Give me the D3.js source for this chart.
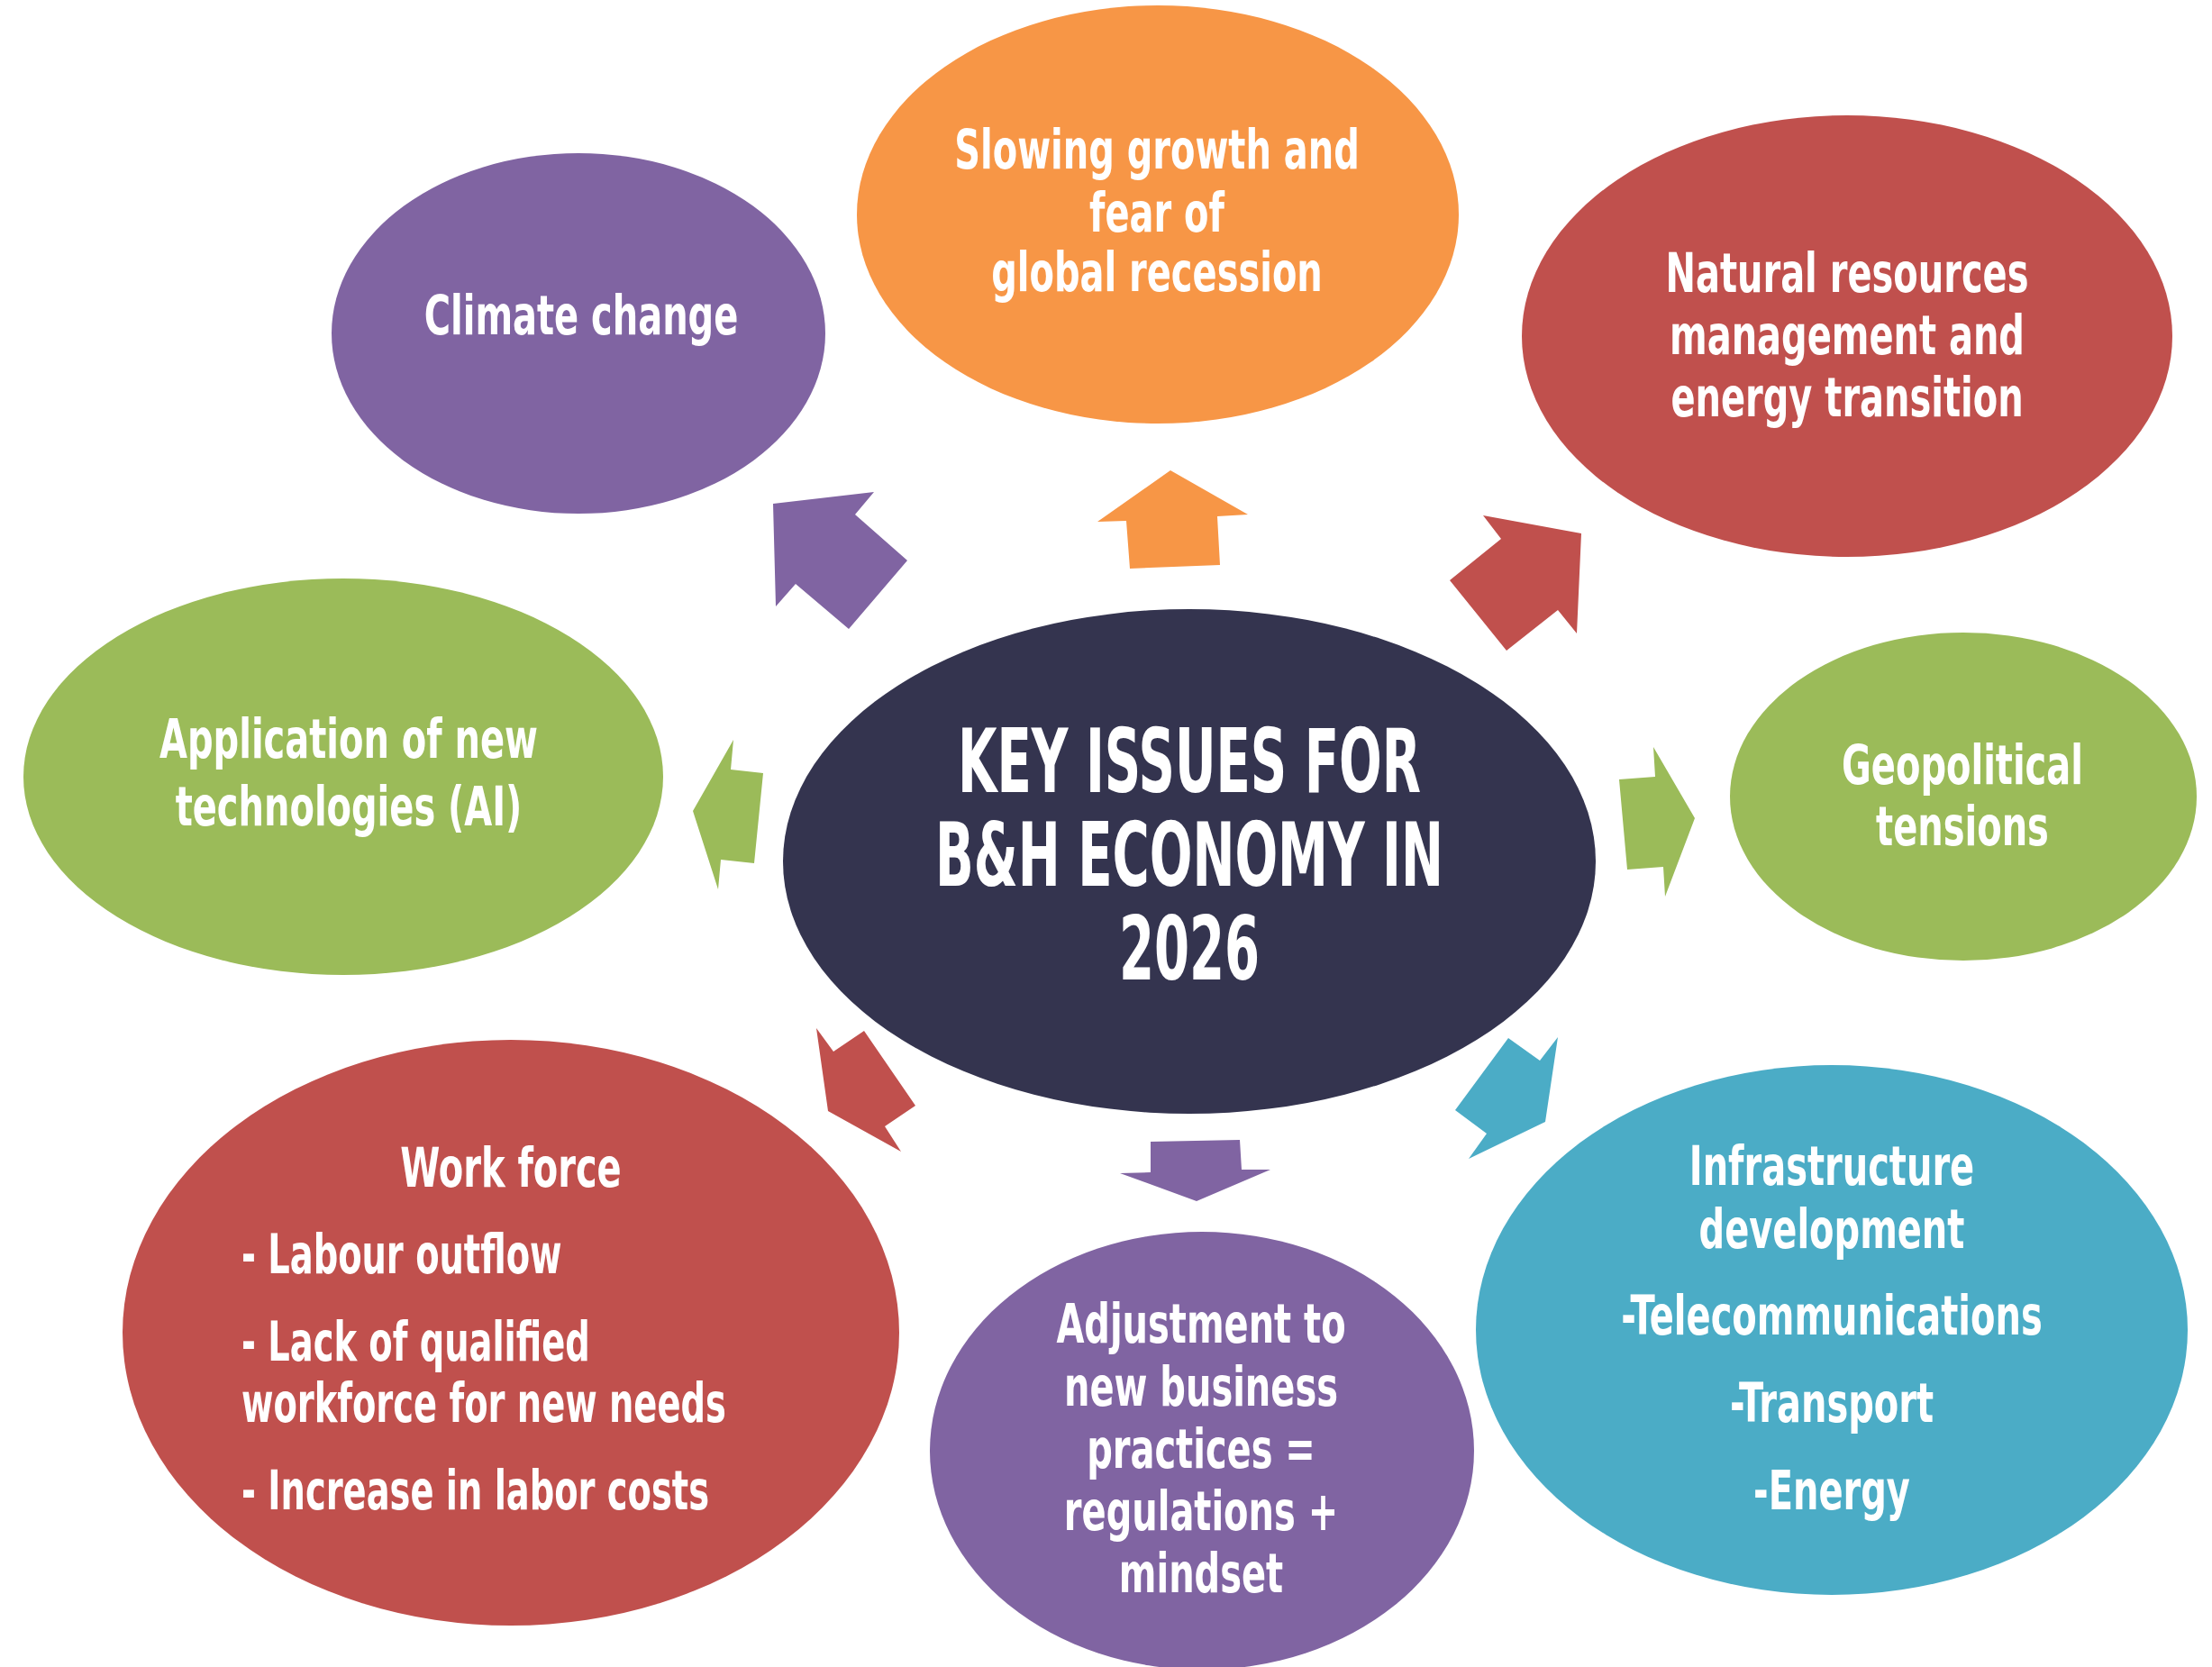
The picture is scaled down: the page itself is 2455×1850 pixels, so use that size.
<!DOCTYPE html>
<html>
<head>
<meta charset="utf-8">
<script src="https://cdn.jsdelivr.net/npm/d3@7"></script>
<style>
  body { margin: 0; background: #fff; }
  svg { display: block; }
</style>
</head>
<body>
<div id="chart"></div>
<script>
// ---- content ----
var centerTitle = ['KEY ISSUES FOR', 'B&H ECONOMY IN', '2026'];
var issueNames = ['Climate change', 'Slowing growth', 'Natural resources', 'Geopolitical tensions',
    'Application of new technologies', 'Work force', 'Adjustment to new business practices', 'Infrastructure development'];
var issueLines = [
    ['Climate change'],
    ['Slowing growth and', 'fear of', 'global recession'],
    ['Natural resources', 'management and', 'energy transition'],
    ['Geopolitical', 'tensions'],
    ['Application of new', 'technologies (AI)'],
    ['Work force'],
    ['Adjustment to', 'new business', 'practices =', 'regulations +', 'mindset'],
    ['Infrastructure', 'development', '-Telecommunications', '-Transport', '-Energy']
];
var workforceBullets = ['- Labour outflow', '- Lack of qualified', 'workforce for new needs', '- Increase in labor costs'];
var issueColors = ['#8064a2', '#f79646', '#c0504d', '#9bbb59', '#9bbb59', '#c0504d', '#8064a2', '#4bacc6'];
var centerColor = '#34344f';

// ---- layout (pixels) ----
var width = 2455, height = 1850;
var centerEllipse = {cx: 1320, cy: 956, rx: 451, ry: 280};
var ellipseCx = [642, 1285, 2050, 2179, 381, 567, 1334, 2033];
var ellipseCy = [370, 238, 373, 884, 862, 1479, 1610, 1476];
var ellipseRx = [274, 334, 361, 259, 355, 431, 302, 395];
var ellipseRy = [200, 232, 245, 182, 220, 325, 243, 294];
var textX = [645, 1284, 2050, 2178, 387, 567, 1333, 2033];
var baselines = [
    [371],
    [187, 257, 323],
    [324, 393, 462],
    [870, 938],
    [841, 916],
    [1317],
    [1490, 1560, 1629, 1698, 1767],
    [1315, 1385, 1481, 1578, 1675]
];
var bulletX = 268;
var bulletBaselines = [1413, 1510, 1578, 1675];
var titleBaselines = [879, 983, 1087];
var labelSize = 60, titleSize = 98;

// arrows: outline points, drawn in the colour of the issue they point to
var arrowColors = ['#8064a2', '#f79646', '#c0504d', '#9bbb59', '#9bbb59', '#c0504d', '#8064a2', '#4bacc6'];
var arrowShapes = [
    [[858, 559], [970, 546], [949, 571], [1007, 622], [942, 698], [883, 648], [861, 673]],
    [[1299, 522], [1385, 571], [1351, 573], [1354, 627], [1254, 631], [1250, 578], [1218, 579]],
    [[1646, 572], [1755, 592], [1750, 703], [1729, 677], [1672, 722], [1609, 644], [1666, 598]],
    [[1797, 865], [1837, 862], [1835, 829], [1881, 908], [1848, 995], [1846, 962], [1806, 965]],
    [[814, 821], [811, 854], [847, 858], [837, 958], [800, 954], [797, 987], [769, 900]],
    [[906, 1141], [925, 1167], [959, 1144], [1016, 1227], [982, 1250], [1000, 1278], [919, 1233]],
    [[1277, 1267], [1376, 1265], [1378, 1298], [1410, 1298], [1328, 1333], [1243, 1302], [1277, 1301]],
    [[1674, 1152], [1709, 1177], [1729, 1151], [1715, 1245], [1630, 1286], [1650, 1258], [1615, 1232]]
];

var fontFamily = '"Liberation Sans Narrow", "DejaVu Sans Condensed", "Roboto", sans-serif';

var svg = d3.select('#chart').append('svg')
    .attr('width', width)
    .attr('height', height);

// calibrate horizontal squeeze so the substitute font matches the condensed original
function squeeze(sample, size, target) {
    var probe = svg.append('text')
        .attr('font-family', fontFamily)
        .attr('font-weight', 'bold')
        .attr('font-size', size)
        .text(sample);
    var w = probe.node().getComputedTextLength();
    probe.remove();
    return target / w;
}
var sx = squeeze('management and', labelSize, 394);
var bulletSx = squeeze('workforce for new needs', labelSize, 538);
var titleSx = squeeze('B&H ECONOMY IN', titleSize, 564);

var outline = d3.line().curve(d3.curveLinearClosed);

svg.selectAll('.arrow')
    .data(arrowShapes)
    .enter().append('path')
    .attr('class', 'arrow')
    .attr('d', function(d) { return outline(d); })
    .attr('fill', function(d, i) { return arrowColors[i]; });

svg.selectAll('.issue')
    .data(issueNames)
    .enter().append('ellipse')
    .attr('class', 'issue')
    .attr('cx', function(d, i) { return ellipseCx[i]; })
    .attr('cy', function(d, i) { return ellipseCy[i]; })
    .attr('rx', function(d, i) { return ellipseRx[i]; })
    .attr('ry', function(d, i) { return ellipseRy[i]; })
    .attr('fill', function(d, i) { return issueColors[i]; });

svg.append('ellipse')
    .attr('cx', centerEllipse.cx)
    .attr('cy', centerEllipse.cy)
    .attr('rx', centerEllipse.rx)
    .attr('ry', centerEllipse.ry)
    .attr('fill', centerColor);

function addLine(x, y, str, size, anchor, k) {
    svg.append('text')
        .attr('transform', 'translate(' + x + ',' + y + ') scale(' + k + ',1)')
        .attr('text-anchor', anchor)
        .attr('font-family', fontFamily)
        .attr('font-weight', 'bold')
        .attr('font-size', size)
        .attr('fill', '#fff')
        .text(str);
}

issueLines.forEach(function(lines, i) {
    lines.forEach(function(str, j) {
        addLine(textX[i], baselines[i][j], str, labelSize, 'middle', sx);
    });
});

workforceBullets.forEach(function(str, j) {
    addLine(bulletX, bulletBaselines[j], str, labelSize, 'start', bulletSx);
});

centerTitle.forEach(function(str, j) {
    addLine(centerEllipse.cx, titleBaselines[j], str, titleSize, 'middle', titleSx);
});
</script>
</body>
</html>
